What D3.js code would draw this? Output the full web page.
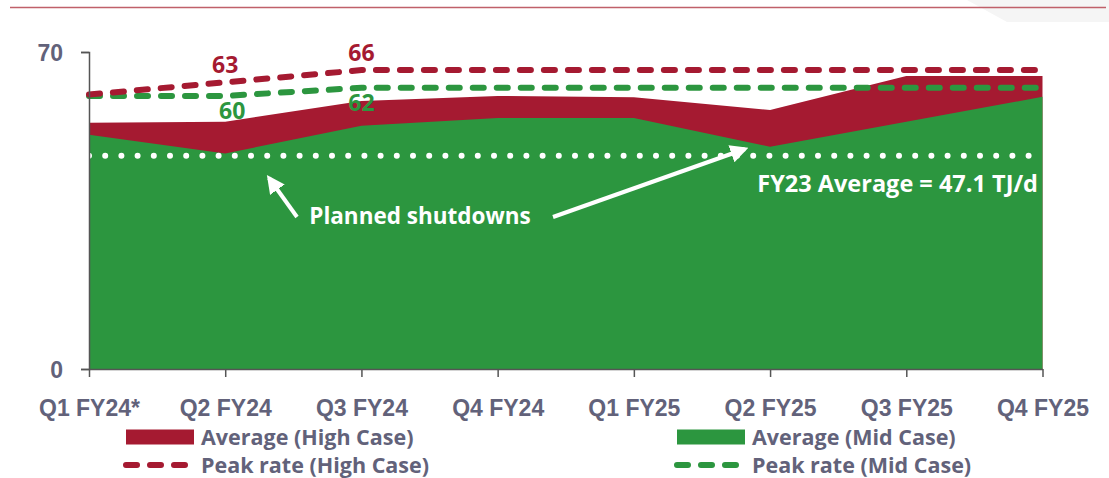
<!DOCTYPE html>
<html>
<head>
<meta charset="utf-8">
<script src="https://cdn.jsdelivr.net/npm/d3@7"></script>
<style>
  body { margin: 0; background: #fff; }
  svg { display: block; font-family: "Open Sans", "Noto Sans", sans-serif; font-weight: bold; }
</style>
</head>
<body>
<svg id="chart" width="1109" height="478"></svg>
<script>
// chart data
const quarters = ["Q1 FY24*", "Q2 FY24", "Q3 FY24", "Q4 FY24", "Q1 FY25", "Q2 FY25", "Q3 FY25", "Q4 FY25"]
const avgHigh = [54.4, 54.6, 59.2, 60.3, 60.0, 57.2, 64.7, 64.7]
const avgMid = [51.7, 47.6, 53.7, 55.4, 55.4, 49.1, 54.6, 60.1]
const peakHigh = [60.6, 63.3, 66.0, 66.0, 66.0, 66.0, 66.0, 66.0]
const peakMid = [60.3, 60.3, 62.1, 62.1, 62.1, 62.1, 62.1, 62.1]
const fy23Average = 47.1
const yTicks = [0, 70]
const peakLabels = [
  { series: "high", q: "Q2 FY24", text: "63" },
  { series: "high", q: "Q3 FY24", text: "66" },
  { series: "mid", q: "Q2 FY24", text: "60" },
  { series: "mid", q: "Q3 FY24", text: "62" }
]

const red = "#a51a31"
const green = "#2c963f"
const grey = "#62627a"
const fontSize = "23px"

let svg = d3.select("#chart")

// header decoration
svg.append("polygon")
  .attr("points", "967,0 1007,22 1109,22 1109,0")
  .attr("fill", "#f5f5f5")
svg.append("line")
  .attr("x1", 10).attr("x2", 1106).attr("y1", 7.5).attr("y2", 7.5)
  .attr("stroke", "#c0606a").attr("stroke-width", 1.5)

let x = d3.scalePoint().domain(quarters).range([89, 1042.5])
let y = d3.scaleLinear().domain([0, 70]).range([369, 52])

let rows = quarters.map((q, i) => ({
  q, high: avgHigh[i], mid: avgMid[i], peakH: peakHigh[i], peakM: peakMid[i]
}))

// areas: high case behind, mid case in front
let area = key => d3.area().x(d => x(d.q)).y0(y(0)).y1(d => y(d[key]))
svg.append("path").datum(rows).attr("d", area("high")).attr("fill", red)
svg.append("path").datum(rows).attr("d", area("mid")).attr("fill", green)

// FY23 average dotted line
svg.append("path")
  .datum([x(quarters[0]), x(quarters[quarters.length - 1]) - 10])
  .attr("d", d => d3.line()(d.map(v => [v, y(fy23Average)])))
  .attr("stroke", "#fff").attr("stroke-width", 6)
  .attr("stroke-linecap", "round").attr("stroke-dasharray", "0,16.2")
  .attr("fill", "none")

// peak rate dashed lines
let line = key => d3.line().x(d => x(d.q)).y(d => y(d[key]))
;[["peakM", green], ["peakH", red]].forEach(([key, col]) => {
  svg.append("path").datum(rows)
    .attr("d", line(key))
    .attr("fill", "none").attr("stroke", col).attr("stroke-width", 6)
    .attr("stroke-linecap", "round").attr("stroke-dasharray", "11,13")
})

// axes
let yAxis = svg.append("g")
  .attr("transform", `translate(${x(quarters[0])},0)`)
  .call(d3.axisLeft(y).tickValues(yTicks).tickSize(8).tickFormat(d3.format("d")))
let xAxis = svg.append("g")
  .attr("transform", `translate(0,${y(0)})`)
  .call(d3.axisBottom(x).tickSize(8).tickSizeOuter(0))
;[xAxis, yAxis].forEach(g => {
  g.selectAll("path, line").attr("stroke", "#555").attr("stroke-width", 1.5)
  g.selectAll("text")
    .attr("fill", grey).style("font-size", fontSize).style("font-weight", "bold")
    .attr("font-family", null)
})
yAxis.selectAll("text").attr("x", -26).attr("dy", "0.35em")
xAxis.selectAll("text").attr("y", 47).attr("dy", 0)

// peak value labels
svg.selectAll("text.peak")
  .data(peakLabels)
  .join("text")
  .attr("class", "peak")
  .attr("x", d => x(d.q) + (d.series == "mid" && d.q == "Q2 FY24" ? 7 : 0))
  .attr("y", d => {
    let v = rows.find(r => r.q == d.q)
    return d.series == "high" ? y(v.peakH) - 9 : y(v.peakM) + 23
  })
  .attr("text-anchor", "middle")
  .attr("fill", d => d.series == "high" ? red : green)
  .style("font-size", fontSize)
  .text(d => d.text)

// annotations
let arrow = svg.append("defs").append("marker")
  .attr("id", "arrowhead").attr("viewBox", "0 0 10 10")
  .attr("refX", 8).attr("refY", 5)
  .attr("markerWidth", 4.5).attr("markerHeight", 4.5)
  .attr("orient", "auto")
arrow.append("path").attr("d", "M0,0L10,5L0,10z").attr("fill", "#fff")

svg.selectAll("line.arrow")
  .data([[297, 217, 269, 178], [553, 217, 745, 149]])
  .join("line")
  .attr("class", "arrow")
  .attr("x1", d => d[0]).attr("y1", d => d[1])
  .attr("x2", d => d[2]).attr("y2", d => d[3])
  .attr("stroke", "#fff").attr("stroke-width", 4)
  .attr("marker-end", "url(#arrowhead)")

svg.append("text")
  .attr("x", 420).attr("y", 224)
  .attr("text-anchor", "middle").attr("fill", "#fff")
  .style("font-size", "22.5px")
  .text("Planned shutdowns")

svg.append("text")
  .attr("x", 1038).attr("y", 192)
  .attr("text-anchor", "end").attr("fill", "#fff")
  .style("font-size", "23.5px")
  .text(`FY23 Average = ${fy23Average} TJ/d`)

// legend (two rows, squeezed to fit above the bottom edge)
let legendItems = [
  { label: "Average (High Case)", col: red, kind: "area", x: 126, y: 437 },
  { label: "Average (Mid Case)", col: green, kind: "area", x: 677, y: 437 },
  { label: "Peak rate (High Case)", col: red, kind: "line", x: 126, y: 465 },
  { label: "Peak rate (Mid Case)", col: green, kind: "line", x: 677, y: 465 }
]
let leg = svg.selectAll("g.legend")
  .data(legendItems)
  .join("g")
  .attr("class", "legend")
  .attr("transform", d => `translate(${d.x},${d.y})`)
leg.filter(d => d.kind == "area").append("rect")
  .attr("x", 0).attr("y", -7.5).attr("width", 68).attr("height", 15)
  .attr("fill", d => d.col)
leg.filter(d => d.kind == "line").append("line")
  .attr("x1", 0).attr("x2", 62).attr("y1", 0).attr("y2", 0)
  .attr("stroke", d => d.col).attr("stroke-width", 6)
  .attr("stroke-linecap", "round").attr("stroke-dasharray", "11,13")
leg.append("text")
  .attr("x", 75).attr("y", 0).attr("dy", "0.35em")
  .attr("fill", grey).style("font-size", "21.5px")
  .text(d => d.label)
</script>
</body>
</html>
